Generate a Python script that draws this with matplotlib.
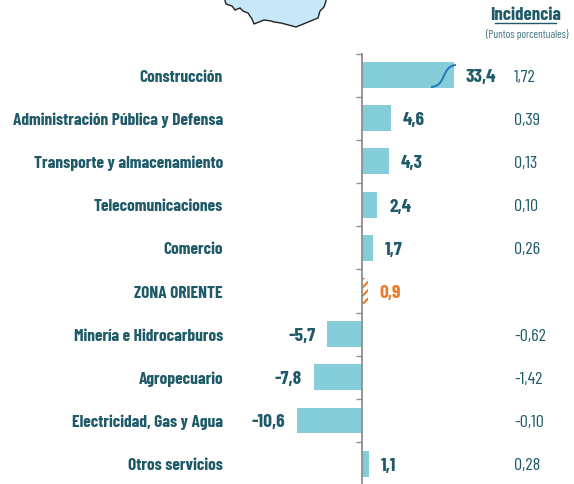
"""Bar chart of sector growth with incidence column."""

import matplotlib

matplotlib.use("Agg")

import matplotlib.pyplot as plt
from matplotlib.patches import PathPatch, Polygon
from matplotlib.path import Path
from matplotlib.transforms import blended_transform_factory

WIDTH, HEIGHT = 574, 485

sectors = [
    "Construcción",
    "Administración Pública y Defensa",
    "Transporte y almacenamiento",
    "Telecomunicaciones",
    "Comercio",
    "ZONA ORIENTE",
    "Minería e Hidrocarburos",
    "Agropecuario",
    "Electricidad, Gas y Agua",
    "Otros servicios",
]
growth = [33.4, 4.6, 4.3, 2.4, 1.7, 0.9, -5.7, -7.8, -10.6, 1.1]
growth_labels = ["33,4", "4,6", "4,3", "2,4", "1,7", "0,9", "-5,7", "-7,8", "-10,6", "1,1"]
incidence = ["1,72", "0,39", "0,13", "0,10", "0,26", "", "-0,62", "-1,42", "-0,10", "0,28"]
highlight = "ZONA ORIENTE"

TEAL = "#1f5a68"
BAR = "#84cdd9"
ORANGE = "#ee7b2c"

plt.rcParams["font.family"] = ["Barlow Condensed", "Open Sans", "DejaVu Sans"]
plt.rcParams["hatch.linewidth"] = 1.6

fig = plt.figure(figsize=(WIDTH / 100, HEIGHT / 100), dpi=100)

# overlay in pixel coordinates for the map and the axis-break mark
over = fig.add_axes([0, 0, 1, 1])
over.set_xlim(0, WIDTH)
over.set_ylim(HEIGHT, 0)
over.axis("off")

map_outline = [
    (224, -2), (226, 5), (232, 7), (235, 11), (240, 9), (243, 12), (248, 14), (252, 20),
    (254, 25), (259, 23), (264, 21), (271, 22), (274, 23), (281, 24), (296, 28),
    (318, 19), (320, 12), (324, 8), (326, 2), (325, -2),
]
over.add_patch(Polygon(map_outline, closed=True, fc="#c6e8f8", ec="#222222", lw=1.0))

ax = fig.add_axes([288 / WIDTH, 0, (454 - 288) / WIDTH, (HEIGHT - 54.5) / HEIGHT])
ax.patch.set_alpha(0)
ax.set_xlim(-12, 14.76)
ax.set_ylim(9.47, -0.5)
column = blended_transform_factory(fig.transFigure, ax.transData)

for i, (name, value) in enumerate(zip(sectors, growth)):
    if name == highlight:
        ax.barh(i, value, height=0.6, color="white", edgecolor=ORANGE, hatch="////", lw=0)
    else:
        ax.barh(i, value, height=0.6, color=BAR, lw=0)

    color = ORANGE if name == highlight else TEAL
    label_x = min(value, ax.get_xlim()[1])
    offset = 8.5 if value > 0 else -8.5
    ha = "left" if value > 0 else "right"
    ax.annotate(growth_labels[i], (label_x, i), xytext=(offset, -1),
                textcoords="offset points", ha=ha, va="center", color=color,
                fontsize=14, fontweight="bold", annotation_clip=False)

    ax.text(223 / WIDTH, i + 0.025, name, transform=column, ha="right", va="center",
            color=TEAL, fontsize=12.5, fontweight="bold")
    ax.text(514 / WIDTH, i + 0.025, incidence[i], transform=column, ha="left", va="center",
            color=TEAL, fontsize=13)

for side in ["top", "right", "bottom"]:
    ax.spines[side].set_visible(False)
ax.spines["left"].set_position(("data", 0))
ax.spines["left"].set_color("#8f8f8f")
ax.spines["left"].set_linewidth(1.3)
ax.set_xticks([])
ax.set_yticks([i - 0.5 for i in range(len(sectors))])
ax.set_yticklabels([])
ax.tick_params(axis="y", length=4.5, width=1.0, color="#8f8f8f")

# axis break on the long bar
over.set_zorder(3)
curve = Path(
    [(431, 88), (447, 87), (441, 67), (456, 66)],
    [Path.MOVETO, Path.CURVE4, Path.CURVE4, Path.CURVE4],
)
over.add_patch(PathPatch(curve, fc="none", ec="#1f78c0", lw=1.4))

over.text(526, 15.5, "Incidencia", ha="center", va="center", color=TEAL,
          fontsize=13.5, fontweight="bold")
over.plot([495, 556], [23.5, 23.5], color=TEAL, lw=1.0)
over.text(527, 34, "(Puntos porcentuales)", ha="center", va="center", color=TEAL,
          fontsize=8, alpha=0.85)

fig.savefig("out.png", dpi=100)
